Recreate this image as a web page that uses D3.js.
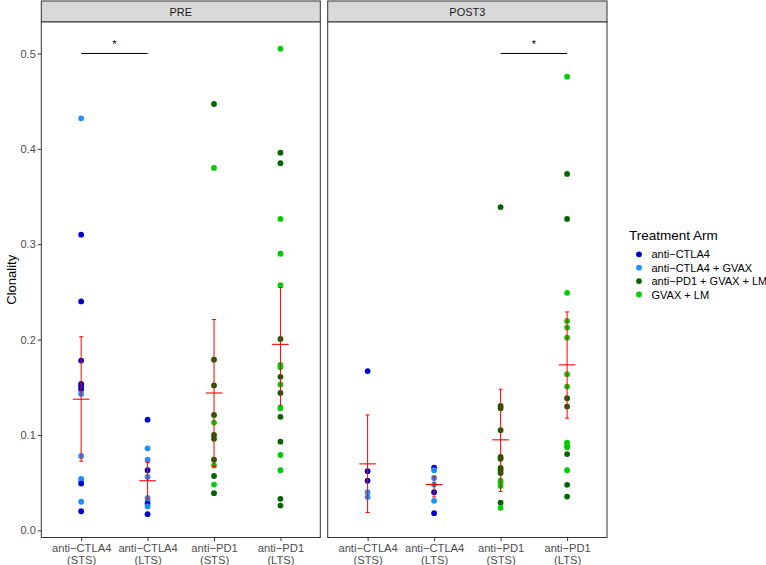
<!DOCTYPE html>
<html><head><meta charset="utf-8">
<script src="https://cdn.jsdelivr.net/npm/d3@7"></script>
<style>body{margin:0;background:#fff;} text{font-family:"Liberation Sans",Arial,Helvetica,sans-serif;}</style>
</head><body><svg id="c" width="766" height="565"></svg>
<script>
// ---- data ----
const facets = ["PRE", "POST3"];
const groups = ["anti\u2212CTLA4|(STS)", "anti\u2212CTLA4|(LTS)", "anti\u2212PD1|(STS)", "anti\u2212PD1|(LTS)"];
const arms = ["anti\u2212CTLA4", "anti\u2212CTLA4 + GVAX", "anti\u2212PD1 + GVAX + LM", "GVAX + LM"];
const armColors = ["#0000CD", "#1E90FF", "#006400", "#00CD00"];
const yTicks = [0.0, 0.1, 0.2, 0.3, 0.4, 0.5];

// points: [value, arm index]
const preCtla4Sts = [[0.432,1],[0.310,0],[0.240,0],[0.178,0],[0.1535,0],[0.151,0],[0.148,0],[0.143,1],[0.078,1],[0.054,1],[0.052,1],[0.049,0],[0.030,1],[0.020,0]];
const preCtla4Lts = [[0.116,0],[0.086,1],[0.074,1],[0.063,0],[0.056,1],[0.034,1],[0.031,1],[0.028,0],[0.025,1],[0.017,0]];
const prePd1Sts = [[0.447,2],[0.380,3],[0.179,2],[0.152,2],[0.121,2],[0.113,3],[0.100,2],[0.096,2],[0.074,2],[0.068,3],[0.057,2],[0.048,3],[0.039,2]];
const prePd1Lts = [[0.505,3],[0.396,2],[0.385,2],[0.3265,3],[0.290,3],[0.257,3],[0.2007,2],[0.1735,3],[0.171,3],[0.161,2],[0.153,3],[0.144,2],[0.128,3],[0.119,2],[0.093,2],[0.079,3],[0.063,3],[0.033,2],[0.026,2]];
const postCtla4Sts = [[0.167,0],[0.062,0],[0.052,0],[0.040,1],[0.035,1]];
const postCtla4Lts = [[0.0658,0],[0.063,1],[0.055,1],[0.048,1],[0.040,0],[0.031,1],[0.018,0]];
const postPd1Sts = [[0.339,2],[0.1305,2],[0.128,2],[0.105,2],[0.077,2],[0.075,2],[0.0655,2],[0.063,2],[0.060,2],[0.052,3],[0.050,3],[0.0466,3],[0.029,2],[0.0236,3]];
const postPd1Lts = [[0.4757,3],[0.3737,2],[0.3265,2],[0.249,3],[0.2196,3],[0.2126,3],[0.202,3],[0.1637,3],[0.1507,3],[0.1385,2],[0.1298,2],[0.092,3],[0.089,3],[0.087,3],[0.080,2],[0.063,3],[0.0477,2],[0.0354,2]];

// summaries (mean, CI low, CI high) per group
const preMeans = [0.1375, 0.052, 0.144, 0.195];
const preLow   = [0.0725, 0.033, 0.067, 0.131];
const preHigh  = [0.203, 0.071, 0.221, 0.2545];
const postMeans = [0.0697, 0.048, 0.0949, 0.1735];
const postLow   = [0.0187, 0.035, 0.0407, 0.1176];
const postHigh  = [0.121, 0.056, 0.148, 0.229];

// significance brackets: [group a, group b, y value, label]
const preSig = [[0, 1, 0.5, "*"]];
const postSig = [[2, 3, 0.5, "*"]];

const panelData = [
  {points: [preCtla4Sts, preCtla4Lts, prePd1Sts, prePd1Lts], means: preMeans, low: preLow, high: preHigh, sig: preSig},
  {points: [postCtla4Sts, postCtla4Lts, postPd1Sts, postPd1Lts], means: postMeans, low: postLow, high: postHigh, sig: postSig}
];

// ---- layout ----
const svg = d3.select("#c");
const panelTop = 22, panelBottom = 537.5, stripTop = 1;
const panels = [{x0: 41.3, x1: 320.3}, {x0: 327.7, x1: 607}];
const y = d3.scaleLinear().domain([-0.0075, 0.533]).range([panelBottom, panelTop]);
const dark = "#333333", tickText = "#4D4D4D";

panels.forEach((p, pi) => {
  const x = d3.scalePoint().domain(groups).range([p.x0, p.x1]).padding(0.6);
  const g = svg.append("g");
  const d = panelData[pi];
  // strip
  g.append("rect").attr("x", p.x0).attr("y", stripTop).attr("width", p.x1 - p.x0).attr("height", panelTop - stripTop)
    .attr("fill", "#D9D9D9").attr("stroke", dark).attr("stroke-width", 1);
  g.append("text").attr("x", (p.x0 + p.x1) / 2).attr("y", (stripTop + panelTop) / 2 + 4)
    .attr("text-anchor", "middle").attr("font-size", 11).attr("fill", "#1A1A1A").text(facets[pi]);
  // panel bg
  g.append("rect").attr("x", p.x0).attr("y", panelTop).attr("width", p.x1 - p.x0).attr("height", panelBottom - panelTop)
    .attr("fill", "#fff");
  // points
  groups.forEach((grp, gi) => {
    g.selectAll(null).data(d.points[gi]).enter().append("circle")
      .attr("cx", x(grp)).attr("cy", v => y(v[0])).attr("r", 2.9)
      .attr("fill", v => armColors[v[1]]);
  });
  // error bars and means
  groups.forEach((grp, gi) => {
    const cx = x(grp);
    g.append("line").attr("x1", cx).attr("x2", cx).attr("y1", y(d.low[gi])).attr("y2", y(d.high[gi]))
      .attr("stroke", "#FF0000").attr("stroke-width", 1);
    [d.low[gi], d.high[gi]].forEach(v => g.append("line").attr("x1", cx - 2).attr("x2", cx + 2)
      .attr("y1", y(v)).attr("y2", y(v)).attr("stroke", "#FF0000").attr("stroke-width", 1));
    g.append("line").attr("x1", cx - 8.3).attr("x2", cx + 8.3).attr("y1", y(d.means[gi])).attr("y2", y(d.means[gi]))
      .attr("stroke", "#FF0000").attr("stroke-width", 1.1);
  });
  // significance
  d.sig.forEach(s => {
    const xa = x(groups[s[0]]), xb = x(groups[s[1]]), yy = y(s[2]);
    g.append("line").attr("x1", xa).attr("x2", xb).attr("y1", yy).attr("y2", yy).attr("stroke", "#000").attr("stroke-width", 1);
    g.append("text").attr("x", (xa + xb) / 2).attr("y", yy - 5.5).attr("text-anchor", "middle")
      .attr("font-size", 11).attr("fill", "#000").text(s[3]);
  });
  // border
  g.append("rect").attr("x", p.x0).attr("y", panelTop).attr("width", p.x1 - p.x0).attr("height", panelBottom - panelTop)
    .attr("fill", "none").attr("stroke", dark).attr("stroke-width", 1);
  // x axis
  const xa = g.append("g").attr("transform", `translate(0,${panelBottom})`)
    .call(d3.axisBottom(x).tickSize(3.5).tickFormat(""));
  xa.select(".domain").remove();
  xa.selectAll(".tick line").attr("stroke", dark);
  xa.selectAll(".tick").each(function(t) {
    const parts = t.split("|");
    const tx = d3.select(this).append("text").attr("fill", tickText).attr("font-size", 11.2)
      .attr("text-anchor", "middle").attr("y", 14);
    parts.forEach((pt, k) => tx.append("tspan").attr("x", 0).attr("dy", k === 0 ? 0 : 12).text(pt));
  });
});

// y axis
const ya = svg.append("g").attr("transform", `translate(${panels[0].x0},0)`)
  .call(d3.axisLeft(y).tickValues(yTicks).tickSize(3.5).tickFormat(d3.format(".1f")));
ya.select(".domain").remove();
ya.selectAll(".tick line").attr("stroke", dark);
ya.selectAll(".tick text").attr("fill", tickText).attr("font-size", 11).attr("x", -5.5)
  .style("font-family", '"Liberation Sans",Arial,sans-serif');

svg.append("text").attr("transform", `translate(16,${(panelTop + panelBottom) / 2}) rotate(-90)`)
  .attr("text-anchor", "middle").attr("font-size", 13).attr("fill", "#000").text("Clonality");

// legend
const lg = svg.append("g");
lg.append("text").attr("x", 629).attr("y", 240).attr("font-size", 13.5).attr("fill", "#000").text("Treatment Arm");
arms.forEach((a, i) => {
  const cy = 254.3 + i * 13.4;
  lg.append("circle").attr("cx", 639).attr("cy", cy).attr("r", 2.9).attr("fill", armColors[i]);
  lg.append("text").attr("x", 651.5).attr("y", cy + 4).attr("font-size", 11).attr("fill", "#000").text(a);
});
</script></body></html>
